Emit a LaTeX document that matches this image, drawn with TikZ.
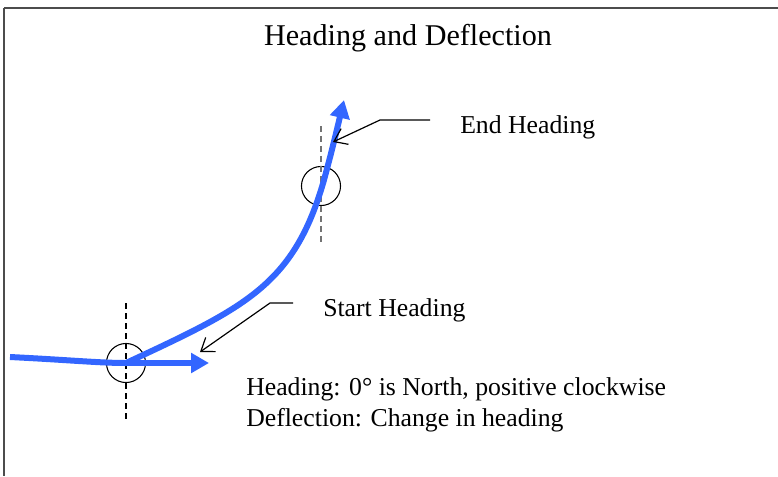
\documentclass[tikz,border=0pt]{standalone}
\usepackage{fontspec}
\setmainfont{Liberation Serif}
\usetikzlibrary{arrows.meta,positioning}
\definecolor{trackblue}{RGB}{51,102,255}
\tikzset{
  frameline/.style={draw=black!70, line width=0.8pt},
  headtitle/.style={anchor=base, inner sep=0pt, font=\fontsize{22.6pt}{26pt}\selectfont},
  lbl/.style={anchor=base west, inner sep=0pt, font=\fontsize{19.3pt}{23pt}\selectfont},
  track/.style={draw=trackblue, line width=4.5pt,
    -{Triangle[length=13.5pt,width=14.5pt]}},
  marker/.style={draw=black, circle, line width=0.8pt, minimum size=29.3pt, inner sep=0pt},
  refline/.style={draw=black, line width=0.8pt, dash pattern=on 4.5pt off 3pt},
  leader/.style={draw=black, line width=0.9pt, -{Straight Barb[length=9pt,width=13pt]}}
}
\begin{document}
\begin{tikzpicture}[x=0.75pt, y=-0.75pt]
  \useasboundingbox (0,0) rectangle (778,476);
  % frame
  \coordinate (tl) at (4,8);
  \coordinate (tr) at (778,8);
  \coordinate (bl) at (4,476);
  \draw[frameline, line width=1.5pt] (tl) -- (tr);
  \draw[frameline] (tl) -- (bl);

  \node[headtitle] (ttl) at (408,45) {Heading and Deflection};

  % heading markers
  \node[marker] (startc) at (126,363) {};
  \node[marker] (endc) at (321,186) {};
  \coordinate (stop) at (126,303);
  \coordinate (sbot) at (126,423);
  \coordinate (etop) at (321,126);
  \coordinate (ebot) at (321,245);
  \draw[refline] (stop) -- (sbot);
  \draw[refline, draw=black!55] (etop) -- (ebot);

  % track
  \coordinate (trackin) at (10,357);
  \coordinate (trackout) at (344,100);
  \draw[track] (trackin) .. controls (70,360) and (100,363) .. (startc.center)
    .. controls (246,307) and (294,285) .. (324,180)
    .. controls (332,150) .. (trackout);
  \coordinate (shtip) at (209,363);
  \draw[track] (startc.center) -- (shtip);

  % labels
  \node[lbl] (endtxt) at (460,133) {End Heading};
  \node[lbl] (starttxt) at (323,316) {Start Heading};
  \node[lbl] (headtxt) at (246,395) {Heading: 0° is North, positive clockwise};
  \node[lbl] (defltxt) at (246,426) {Deflection: Change in heading};

  % leaders
  \coordinate (ehend) at (430,120);
  \coordinate (ehknee) at (380,120);
  \coordinate (ehtip) at (333,142);
  \coordinate (shend) at (293,303);
  \coordinate (shknee) at (270,303);
  \coordinate (shpoint) at (200,352);
  \draw[leader] (ehend) -- (ehknee) -- (ehtip);
  \draw[leader] (shend) -- (shknee) -- (shpoint);
\end{tikzpicture}
\end{document}
